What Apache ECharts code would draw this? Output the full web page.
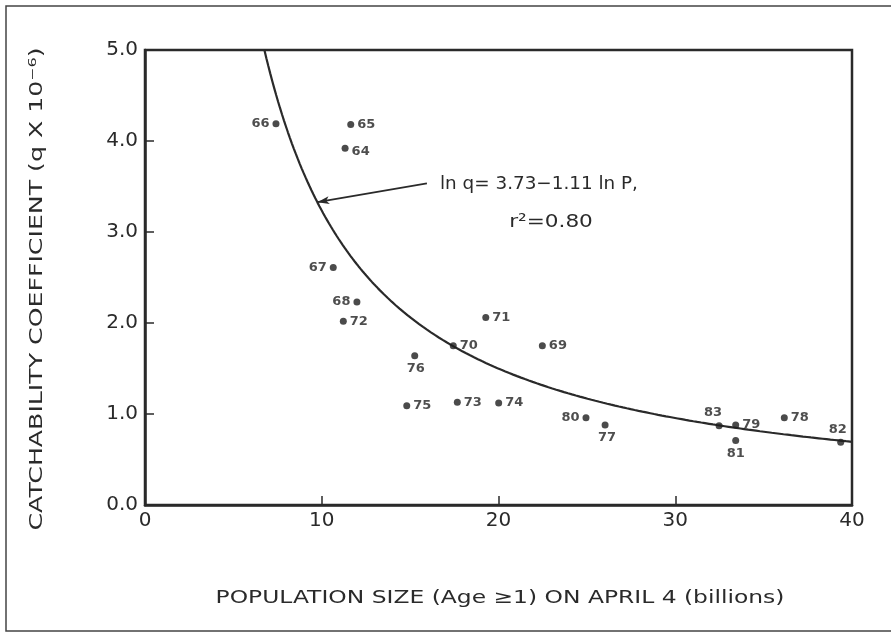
<!DOCTYPE html>
<html>
<head>
<meta charset="utf-8">
<script src="https://cdn.jsdelivr.net/npm/echarts@6/dist/echarts.min.js"></script>
<style>
  html, body { margin: 0; padding: 0; background: #fff; }
  #chart { width: 891px; height: 633px; }
</style>
</head>
<body>
<div id="chart"></div>
<script>
// Season labels (year) with population size (billions) and catchability (q x 10^-6)
const years   = ['66', '65', '64', '67', '68', '72', '71', '70', '69', '76', '75', '73', '74', '80', '77', '83', '79', '81', '78', '82'];
const popSize = [7.41, 11.64, 11.32, 10.65, 11.99, 11.22, 19.28, 17.44, 22.48, 15.26, 14.81, 17.67, 20.01, 24.95, 26.03, 32.48, 33.42, 33.42, 36.17, 39.36];
const catchQ  = [4.19, 4.18, 3.92, 2.61, 2.23, 2.02, 2.06, 1.75, 1.75, 1.64, 1.09, 1.13, 1.12, 0.96, 0.88, 0.87, 0.88, 0.71, 0.96, 0.69];

// Fitted regression: ln q = fitA - fitB ln P
const fitA = 3.73;
const fitB = 1.11;
const fitR2 = '0.80';

const xTicks = [0, 10, 20, 30, 40];
const yTicks = [0, 1, 2, 3, 4, 5];

const ink = '#2a2a2a';
const fontFam = '"DejaVu Sans", "Liberation Sans", sans-serif';

// where each year label sits relative to its dot
const labelPlace = {
  '66': ['left', [0, 0]], '65': ['right', [0, 0]], '64': ['right', [0, 3]],
  '67': ['left', [0, 0]], '68': ['left', [0, 0]], '72': ['right', [0, 0]],
  '71': ['right', [0, 0]], '70': ['right', [0, 0]], '69': ['right', [0, 0]],
  '76': ['bottom', [1, 0]], '75': ['right', [0, 0]], '73': ['right', [0, 0]],
  '74': ['right', [0, 0]], '80': ['left', [0, 0]], '77': ['bottom', [2, 0]],
  '83': ['top', [-6, 0]], '79': ['right', [0, 0]], '81': ['bottom', [0, 0]],
  '78': ['right', [0, 0]], '82': ['top', [-3, 0]]
};

const fitQ = p => Math.exp(fitA - fitB * Math.log(p));

const yMax = yTicks[yTicks.length - 1];
const xMax = xTicks[xTicks.length - 1];
const pStart = Math.exp((fitA - Math.log(yMax)) / fitB);
const curve = [];
const steps = 300;
for (let i = 0; i <= steps; i++) {
  const p = pStart + (xMax - pStart) * i / steps;
  curve.push([p, fitQ(p)]);
}

const points = years.map((yr, i) => ({
  name: yr,
  value: [popSize[i], catchQ[i]],
  label: { position: labelPlace[yr][0], offset: labelPlace[yr][1] }
}));

const arrowTip = 9.75;

const chart = echarts.init(document.getElementById('chart'));
chart.setOption({
  animation: false,
  backgroundColor: '#fff',
  grid: {
    left: 145, right: 39, top: 50, bottom: 128,
    show: true, borderColor: ink, borderWidth: 2.5, backgroundColor: 'transparent'
  },
  xAxis: {
    type: 'value', min: xTicks[0], max: xMax, interval: 10,
    axisLine: { show: true, lineStyle: { color: ink, width: 2.5 } },
    axisTick: { show: true, inside: true, length: 9, lineStyle: { color: ink, width: 1.5 } },
    splitLine: { show: false },
    axisLabel: { color: ink, fontSize: 20, fontFamily: fontFam, margin: 6 }
  },
  yAxis: {
    type: 'value', min: yTicks[0], max: yMax, interval: 1,
    axisLine: { show: true, lineStyle: { color: ink, width: 2.5 } },
    axisTick: { show: true, inside: true, length: 9, lineStyle: { color: ink, width: 1.5 } },
    splitLine: { show: false },
    axisLabel: { color: ink, fontSize: 20, fontFamily: fontFam, margin: 7, formatter: v => v.toFixed(1) }
  },
  series: [
    {
      type: 'line',
      data: curve,
      showSymbol: false,
      symbol: 'none',
      lineStyle: { color: ink, width: 2.2 },
      z: 2,
      markLine: {
        silent: true,
        symbol: ['none', 'arrow'],
        symbolSize: [6, 12],
        lineStyle: { color: ink, width: 1.7, type: 'solid' },
        label: { show: false },
        data: [[
          { coord: [15.95, 3.535] },
          { coord: [arrowTip, fitQ(arrowTip)] }
        ]]
      }
    },
    {
      type: 'scatter',
      data: points,
      symbol: 'circle',
      symbolSize: 7,
      itemStyle: { color: '#1e1e1e' },
      z: 3,
      label: {
        show: true,
        formatter: p => p.name,
        distance: 3,
        color: '#222',
        fontSize: 13,
        fontWeight: 'bold',
        fontFamily: fontFam
      }
    }
  ],
  graphic: [
    {
      type: 'rect', silent: true, z: -1,
      shape: { x: 6, y: 6, width: 1000, height: 625 },
      style: { fill: 'none', stroke: '#444', lineWidth: 1.5 }
    },
    {
      type: 'text', silent: true,
      x: 37, y: 289, rotation: Math.PI / 2, scaleX: 1.4,
      style: {
        text: 'CATCHABILITY COEFFICIENT (q X 10⁻⁶)',
        fill: ink, fontSize: 18, fontFamily: fontFam,
        align: 'center', verticalAlign: 'middle',
        textAlign: 'center', textVerticalAlign: 'middle'
      }
    },
    {
      type: 'text', silent: true,
      x: 500, y: 598, scaleX: 1.3,
      style: {
        text: 'POPULATION SIZE (Age ≥1) ON APRIL 4 (billions)',
        fill: ink, fontSize: 18, fontFamily: fontFam,
        align: 'center', verticalAlign: 'middle',
        textAlign: 'center', textVerticalAlign: 'middle'
      }
    },
    {
      type: 'text', silent: true,
      x: 440, y: 184, scaleX: 1.02,
      style: {
        text: 'ln q= ' + fitA.toFixed(2) + '−' + fitB.toFixed(2) + ' ln P,',
        fill: ink, fontSize: 18, fontFamily: fontFam,
        align: 'left', verticalAlign: 'middle',
        textAlign: 'left', textVerticalAlign: 'middle'
      }
    },
    {
      type: 'text', silent: true,
      x: 551, y: 222, scaleX: 1.2,
      style: {
        text: 'r²=' + fitR2,
        fill: ink, fontSize: 18, fontFamily: fontFam,
        align: 'center', verticalAlign: 'middle',
        textAlign: 'center', textVerticalAlign: 'middle'
      }
    }
  ]
});
</script>
</body>
</html>
